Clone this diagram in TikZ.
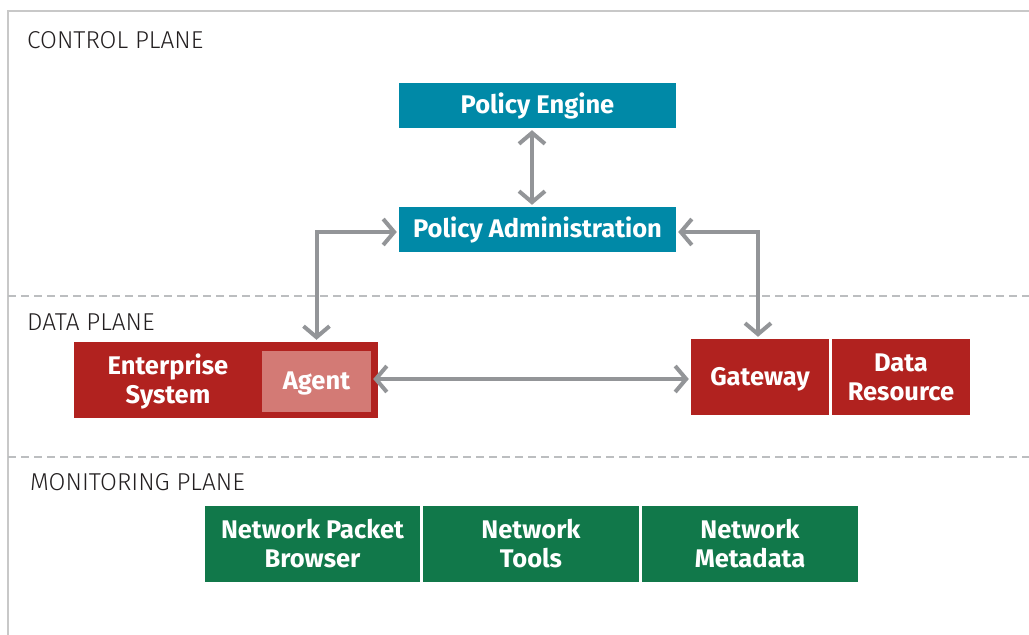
\documentclass[tikz,border=0pt]{standalone}
\usepackage{fontspec}
\setmainfont{Fira Sans}
\newfontfamily\labelfont{Fira Sans Light}
\usetikzlibrary{arrows.meta}
\definecolor{frameg}{HTML}{C8C8C8}
\definecolor{dashg}{HTML}{BCBEC0}
\definecolor{arrg}{HTML}{939598}
\definecolor{ctrlc}{HTML}{0089A7}
\definecolor{datac}{HTML}{B1221F}
\definecolor{agentc}{HTML}{D37A75}
\definecolor{monc}{HTML}{11784A}
\definecolor{labc}{HTML}{231F20}
\tikzset{
  box/.style={inner sep=0pt, align=center, text=white,
    font=\fontsize{25.5}{29}\selectfont\bfseries},
  ctrlbox/.style={box, fill=ctrlc, minimum width=277pt, minimum height=45pt},
  databox/.style={box, fill=datac, minimum height=76pt},
  monbox/.style={box, fill=monc, minimum height=76pt},
  planelabel/.style={anchor=base west, inner sep=0pt, text=labc,
    font=\labelfont\fontsize{24.4}{28}\selectfont},
  planesep/.style={dashg, line width=2pt, dash pattern=on 8pt off 5pt},
  arr/.style={arrg, line width=4pt,
    {Straight Barb[length=11pt,width=26pt]}-{Straight Barb[length=11pt,width=26pt]},
    shorten <=2pt, shorten >=2pt},
}
\begin{document}
\begin{tikzpicture}[x=1pt,y=-1pt]
\useasboundingbox (0,0) rectangle (1029,635);
% frame and plane separators
\draw[frameg, line width=1.5pt] (8,635) -- (8,11) -- (1029,11);
\draw[planesep] (8,296) -- (1029,296);
\draw[planesep] (8,457) -- (1029,457);
% plane labels
\node[planelabel] (lc) at (27,48) {CONTROL PLANE};
\node[planelabel] (ld) at (27,330) {DATA PLANE};
\node[planelabel] (lm) at (30,490) {MONITORING PLANE};
% control plane
\node[ctrlbox] (pe) at (537.5,105.5) {Policy Engine};
\node[ctrlbox] (pa) at (537.5,229.5) {Policy Administration};
% data plane
\node[databox, minimum width=304pt] (ent) at (226,380) {};
\node[box] (entt) at (168,381) {Enterprise\\System};
\node[box, fill=agentc, minimum width=109pt, minimum height=61pt] (agent) at (316.5,381.5) {};
\node[box] (agentt) at (316.5,383.5) {Agent};
\node[databox, minimum width=138pt] (gw) at (760,377) {};
\node[box] (gwt) at (760,379) {Gateway};
\node[databox, minimum width=138pt] (dr) at (901,377) {Data\\Resource};
% monitoring plane
\node[monbox, minimum width=215pt] (npb) at (312.5,544) {Network Packet\\Browser};
\node[monbox, minimum width=216pt] (nt) at (531,544) {Network\\Tools};
\node[monbox, minimum width=216pt] (nm) at (750,544) {Network\\Metadata};
% connectors
\coordinate (mid) at (0,379);
\draw[arr] ([xshift=-5.5pt]pe.south) -- ([xshift=-5.5pt]pa.north);
\draw[arr] ([yshift=-2.5pt]pa.west) -| (agent.north |- ent.north);
\draw[arr] ([yshift=-2.5pt]pa.east) -| ([xshift=-2pt]gw.north);
\draw[arr] (agent.east |- mid) -- (gw.west |- mid);
\end{tikzpicture}
\end{document}
